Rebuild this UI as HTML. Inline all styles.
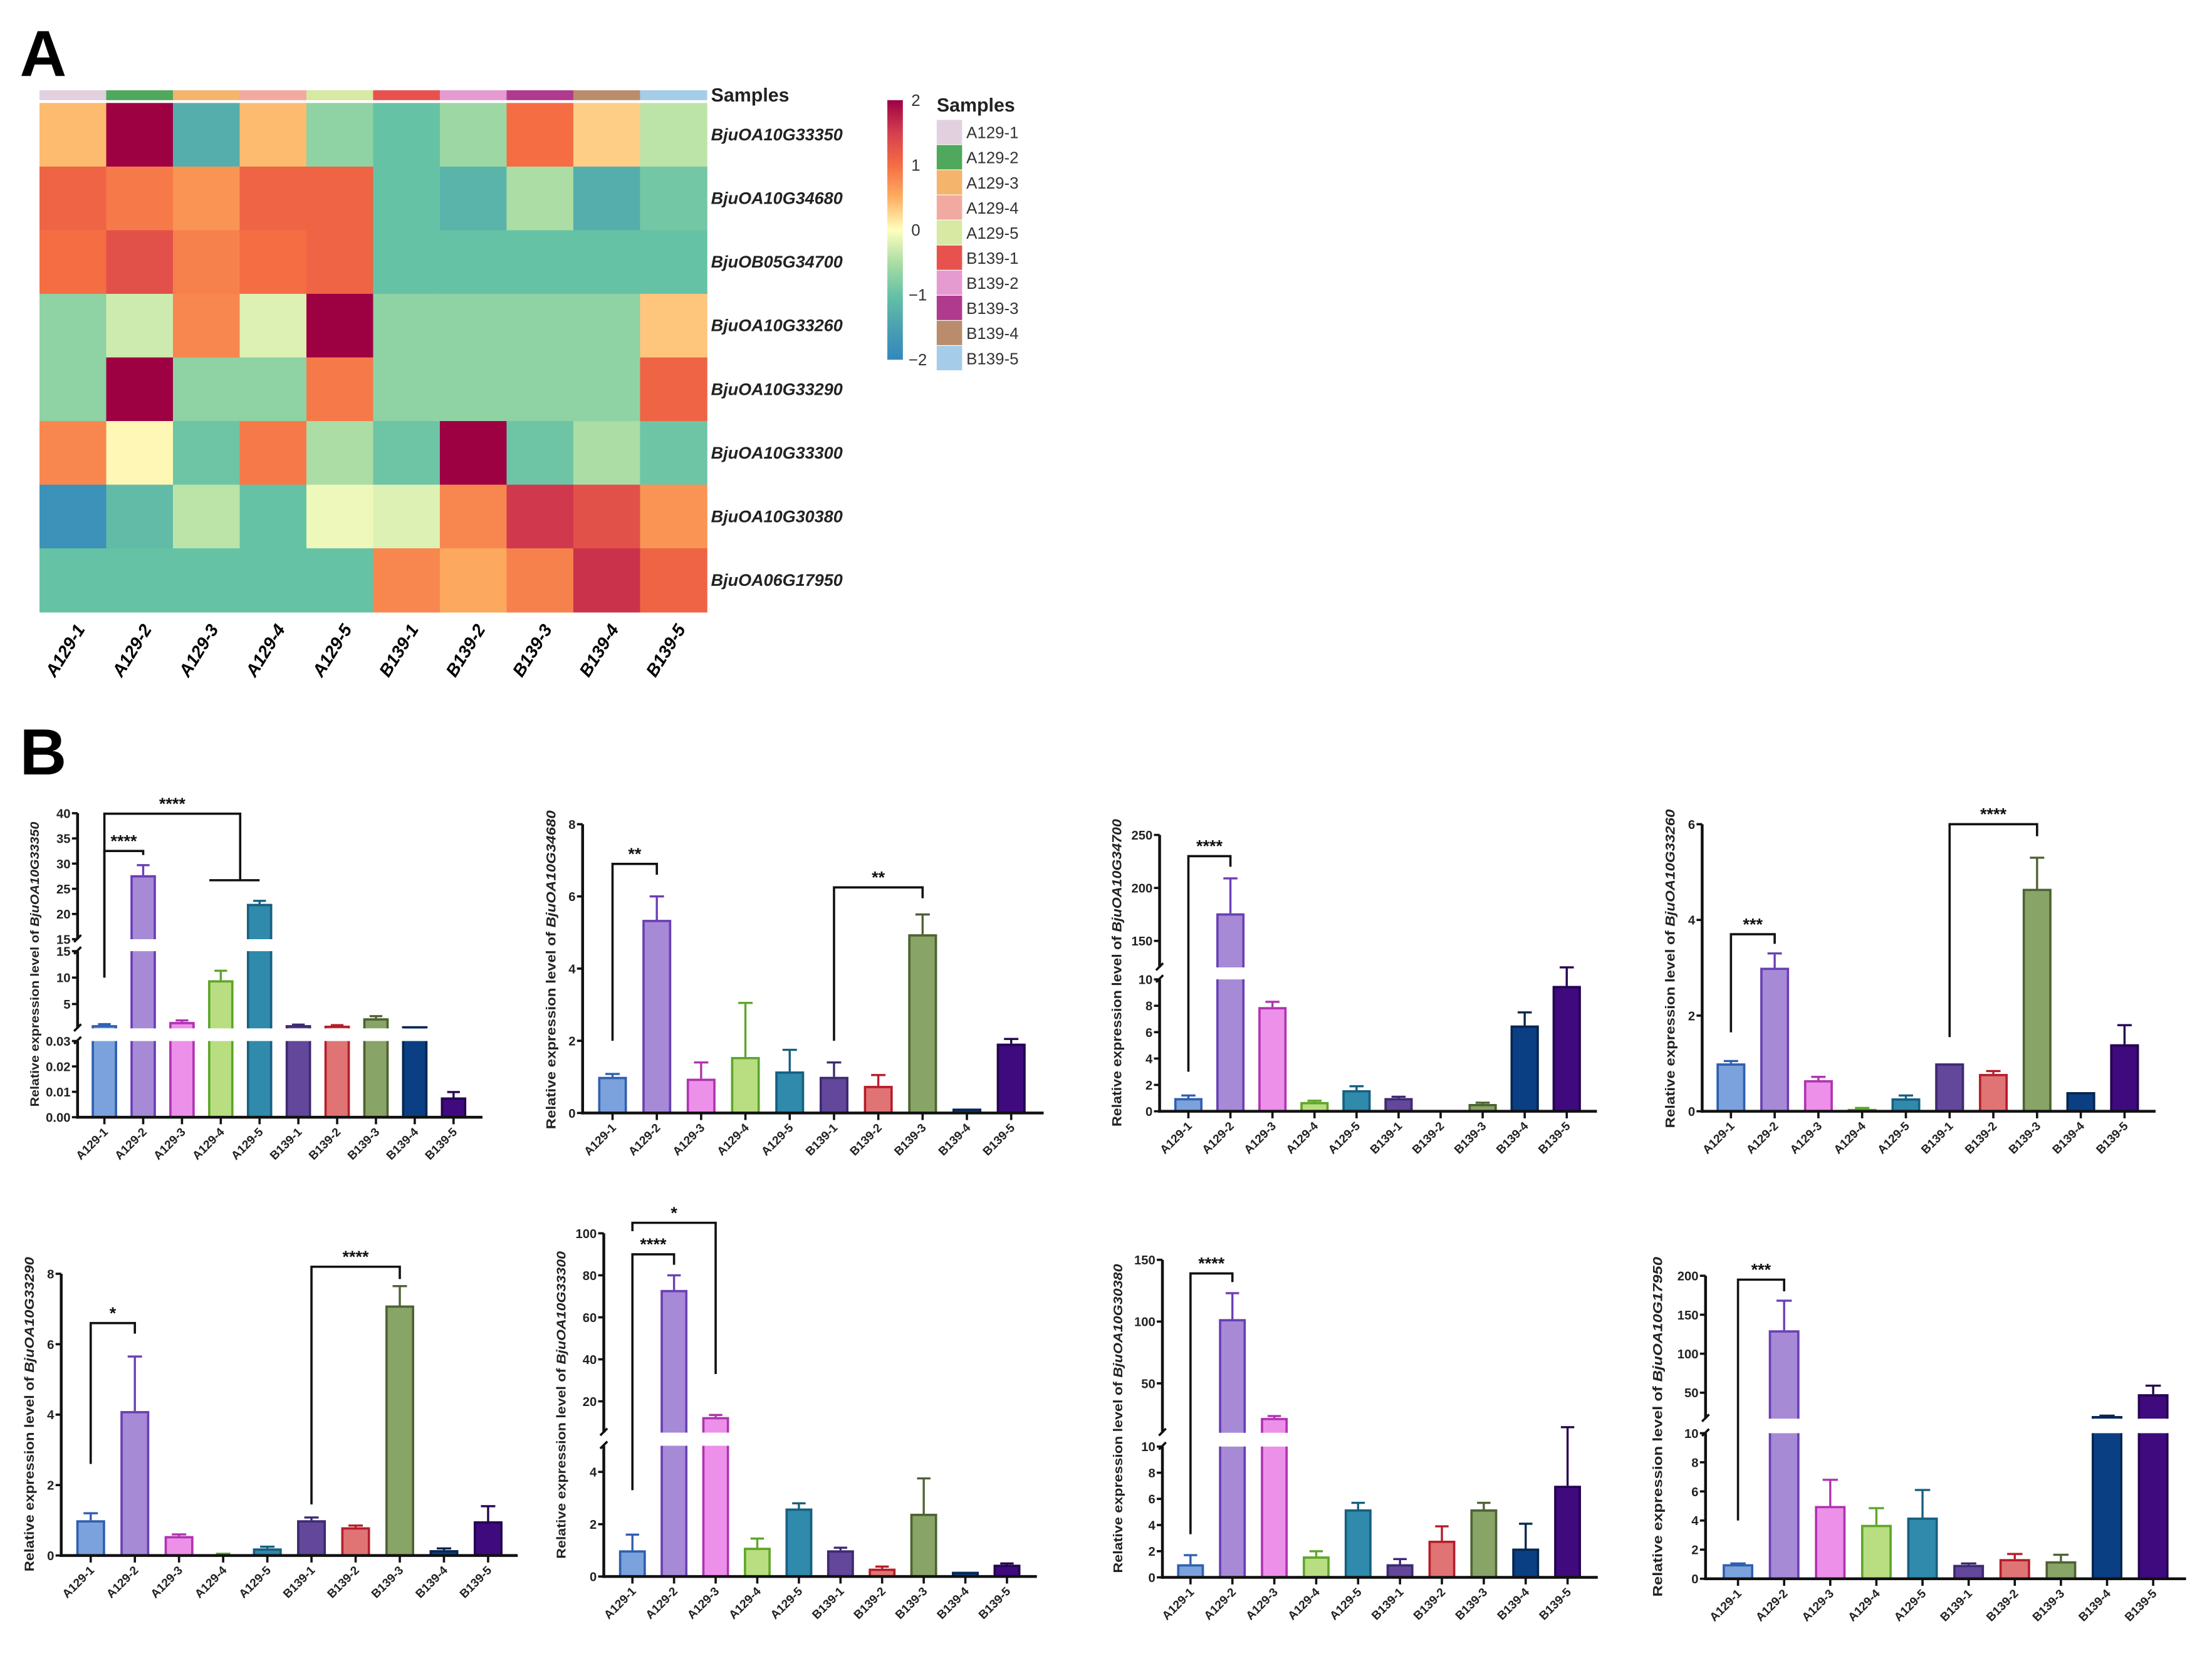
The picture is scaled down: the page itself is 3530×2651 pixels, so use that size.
<!DOCTYPE html>
<html><head><meta charset="utf-8"><style>
html,body{margin:0;padding:0;background:#fff;}
svg{display:block;font-family:"Liberation Sans",Arial,sans-serif;}
</style></head><body>
<svg id="fig" xmlns="http://www.w3.org/2000/svg" width="3530" height="2651" viewBox="0 0 1568 1177.5" preserveAspectRatio="none">
<rect x="0" y="0" width="1568" height="1177.5" fill="#fff"/>
<text x="14" y="54" font-size="46" font-weight="bold">A</text>
<text x="14" y="549" font-size="46" font-weight="bold">B</text>
<defs>
<linearGradient id="cbar" x1="0" y1="0" x2="0" y2="1">
<stop offset="0" stop-color="#9e0142"/><stop offset="0.125" stop-color="#d53e4f"/><stop offset="0.25" stop-color="#f46d43"/><stop offset="0.375" stop-color="#fdae61"/><stop offset="0.5" stop-color="#ffffbf"/><stop offset="0.625" stop-color="#abdda4"/><stop offset="0.75" stop-color="#66c2a5"/><stop offset="0.875" stop-color="#4ba0b1"/><stop offset="1" stop-color="#3288bd"/>
</linearGradient>
</defs>
<g id="heat"></g>
<g id="bars"></g>
</svg>
<script>
const NS='http://www.w3.org/2000/svg';
const samples=['A129-1','A129-2','A129-3','A129-4','A129-5','B139-1','B139-2','B139-3','B139-4','B139-5'];
const sampleColors=['#e2d0df','#4fa85c','#f4b46c','#f2aaa0','#d7e9a2','#e8524e','#e69bd0','#b03a8e','#b98d6b','#a5cce8'];
const heatGenes=['BjuOA10G33350','BjuOA10G34680','BjuOB05G34700','BjuOA10G33260','BjuOA10G33290','BjuOA10G33300','BjuOA10G30380','BjuOA06G17950'];
const heatRow1=[0.42,2,-1.3,0.42,-0.7,-1,-0.6,1.0,0.3,-0.4];
const heatRow2=[1.1,0.9,0.7,1.1,1.1,-1,-1.2,-0.5,-1.3,-0.9];
const heatRow3=[1.0,1.3,0.85,1.0,1.1,-1,-1,-1,-1,-1];
const heatRow4=[-0.7,-0.3,0.8,-0.2,2,-0.7,-0.7,-0.7,-0.7,0.35];
const heatRow5=[-0.7,2,-0.7,-0.7,0.9,-0.7,-0.7,-0.7,-0.7,1.1];
const heatRow6=[0.8,0.05,-0.95,0.9,-0.5,-0.95,2,-0.95,-0.5,-0.95];
const heatRow7=[-1.8,-1.1,-0.4,-1.0,-0.1,-0.2,0.8,1.55,1.3,0.7];
const heatRow8=[-1,-1,-1,-1,-1,0.8,0.55,0.85,1.6,1.1];
const heatRows=[heatRow1,heatRow2,heatRow3,heatRow4,heatRow5,heatRow6,heatRow7,heatRow8];
const colorbarTicks=[2,1,0,-1,-2];

const barFills=['#7ba2dc','#a68ad6','#ec90ea','#b9de82','#2f8aab','#62479a','#e07474','#88a466','#0b3f84','#3f0a7e'];
const barStrokes=['#2f5fae','#6a3fb5','#b033b0','#5ea52a','#175f80','#3d2a70','#b51d2a','#4e6233','#06264f','#25044f'];

const c1Gene='BjuOA10G33350';
const c1Values=[1.0,27.7,1.6,9.5,22,1.0,0.9,2.3,0.8,0.0078];
const c1Errors=[1.2,29.7,1.9,11.3,22.6,1.1,1.0,2.7,0.8,0.0099];
const c1Ticks=[[0,0.01,0.02,0.03],[5,10,15],[15,20,25,30,35,40]];
const c2Gene='BjuOA10G34680';
const c2Values=[1.0,5.35,0.95,1.55,1.15,1.0,0.75,4.95,0.12,1.92];
const c2Errors=[1.08,6.0,1.4,3.05,1.75,1.4,1.05,5.5,0.12,2.05];
const c2Ticks=[[0,2,4,6,8]];
const c3Gene='BjuOA10G34700';
const c3Values=[1.0,176,7.9,0.7,1.6,1.0,0,0.55,6.5,9.5];
const c3Errors=[1.2,209,8.3,0.8,1.9,1.1,0,0.65,7.5,10.2];
const c3Ticks=[[0,2,4,6,8,10],[150,200,250]];
const c4Gene='BjuOA10G33260';
const c4Values=[1.0,3.0,0.65,0.05,0.27,1.0,0.78,4.65,0.4,1.4];
const c4Errors=[1.05,3.3,0.72,0.07,0.33,1.0,0.84,5.3,0.4,1.8];
const c4Ticks=[[0,2,4,6]];
const c5Gene='BjuOA10G33290';
const c5Values=[1.0,4.1,0.55,0.03,0.2,1.0,0.8,7.1,0.15,0.97];
const c5Errors=[1.2,5.65,0.6,0.05,0.25,1.08,0.85,7.65,0.2,1.4];
const c5Ticks=[[0,2,4,6,8]];
const c6Gene='BjuOA10G33300';
const c6Values=[1.0,73,12.5,1.1,2.6,1.0,0.3,2.4,0.18,0.45];
const c6Errors=[1.6,80,13.5,1.45,2.8,1.1,0.38,3.75,0.18,0.5];
const c6Ticks=[[0,2,4],[20,40,60,80,100]];
const c7Gene='BjuOA10G30380';
const c7Values=[1.0,102,22,1.6,5.2,1.0,2.8,5.2,2.2,7.0];
const c7Errors=[1.7,123,23.5,2.0,5.7,1.4,3.9,5.7,4.1,14.5];
const c7Ticks=[[0,2,4,6,8,10],[50,100,150]];
const c8Gene='BjuOA10G17950';
const c8Values=[1.0,130,5.0,3.7,4.2,0.95,1.35,1.2,20,48];
const c8Errors=[1.05,168,6.8,4.85,6.1,1.05,1.7,1.65,20.5,59];
const c8Ticks=[[0,2,4,6,8,10],[50,100,150,200]];

// significance brackets: [leftIndex, rightIndex, topValue, leftLegValue, rightLegValue, label]
const c1Sig=[[0,1,32.5,10,31.7,'****'],[0,3.5,39.9,10,26.7,'****']];
const c2Sig=[[0,1,6.9,2.0,6.6,'**'],[5,7,6.25,2.0,5.95,'**']];
const c3Sig=[[0,1,230,3,220,'****']];
const c4Sig=[[0,1,3.7,1.65,3.5,'***'],[5,7,6.0,1.55,5.75,'****']];
const c5Sig=[[0,1,6.6,2.6,6.3,'*'],[5,7,8.2,1.45,7.85,'****']];
const c6Sig=[[0,1,90,3.3,85,'****'],[0,2,105,101,33,'*']];
const c7Sig=[[0,1,139,3.3,132,'****']];
const c8Sig=[[0,1,195,4,180,'***']];

function el(tag,attrs,parent){const e=document.createElementNS(NS,tag);for(const k in attrs)e.setAttribute(k,attrs[k]);parent.appendChild(e);return e;}

// ---------- Heatmap ----------
const heat=document.getElementById('heat');
const hx0=28,hw=47.3,hy0=73,hh=45.1;
const cStops=[-2,-1.5,-1,-0.5,0,0.5,1,1.5,2];
const cCols=['#3288bd','#4ba0b1','#66c2a5','#abdda4','#ffffbf','#fdae61','#f46d43','#d53e4f','#9e0142'];
function hex(c){return [1,3,5].map(i=>parseInt(c.substr(i,2),16));}
function colorOf(v){v=Math.max(-2,Math.min(2,v));for(let i=0;i<cStops.length-1;i++){if(v<=cStops[i+1]){const t=(v-cStops[i])/(cStops[i+1]-cStops[i]);const a=hex(cCols[i]),b=hex(cCols[i+1]);return 'rgb('+a.map((x,k)=>Math.round(x+(b[k]-x)*t)).join(',')+')';}}return cCols[cCols.length-1];}
samples.forEach((s,j)=>{
  const r=el('rect',{x:hx0+j*hw,y:64,width:hw+0.3,height:7,fill:sampleColors[j]},heat);
  
  
  const t=el('text',{x:0,y:0,'font-size':12.5,'font-weight':'bold','font-style':'italic','text-anchor':'end',transform:`translate(${hx0+j*hw+hw/2+9},${446}) rotate(-58)`},heat);
  t.textContent=s;
  
  
});
heatRows.forEach((row,i)=>{
  row.forEach((v,j)=>{
    const r=el('rect',{x:hx0+j*hw,y:hy0+i*hh,width:hw+0.4,height:hh+0.4,fill:colorOf(v)},heat);
    
    
  });
  const t=el('text',{x:504,y:hy0+i*hh+hh/2+4,'font-size':12,'font-weight':'bold','font-style':'italic',fill:'#222'},heat);
  t.textContent=heatGenes[i];
  
  
});
{const t=el('text',{x:504,y:72,'font-size':13.5,'font-weight':'bold',fill:'#222'},heat);t.textContent='Samples';

}
{const r=el('rect',{x:629,y:71,width:11,height:184,fill:'url(#cbar)'},heat);

}
colorbarTicks.forEach(v=>{
  const y=71+(2-v)/4*184;
  const t=el('text',{x:v<0?644:646,y:y+4,'font-size':11.5,fill:'#333'},heat);
  t.textContent=v<0?'\u2212'+Math.abs(v):String(v);
  
  
});
{const t=el('text',{x:664,y:79,'font-size':13.5,'font-weight':'bold',fill:'#222'},heat);t.textContent='Samples';

}
samples.forEach((s,j)=>{
  const y=85+j*17.8;
  const r=el('rect',{x:664,y:y,width:18,height:17.3,fill:sampleColors[j]},heat);
  
  
  const t=el('text',{x:685,y:y+13,'font-size':11.5,fill:'#333'},heat);
  t.textContent=s;
  
  
});

// ---------- Bar charts ----------
const bars=document.getElementById('bars');
const layouts=[
 {gene:c1Gene,vals:c1Values,errs:c1Errors,ticks:c1Ticks,sig:c1Sig,ax:55,x0:74,dx:27.5,bw:18,xEnd:342,base:792,segs:[[0,0.03,792,738],[0.4,15,729,674.3],[15,40,665.8,576.5]],tx:24,tc:683.6,tl:202,fs:8.5,dec:[2,0,0]},
 {gene:c2Gene,vals:c2Values,errs:c2Errors,ticks:c2Ticks,sig:c2Sig,ax:413,x0:434.2,dx:31.4,bw:20.4,xEnd:739.8,base:789,segs:[[0,8,789,584.3]],tx:390.3,tc:687.5,tl:226,fs:9.5,dec:[0]},
 {gene:c3Gene,vals:c3Values,errs:c3Errors,ticks:c3Ticks,sig:c3Sig,ax:822,x0:842.4,dx:29.8,bw:20,xEnd:1132,base:787.8,segs:[[0,10,787.8,694.3],[125,250,685.8,591.9]],tx:791.4,tc:689.6,tl:218,fs:9.5,dec:[0,0]},
 {gene:c4Gene,vals:c4Values,errs:c4Errors,ticks:c4Ticks,sig:c4Sig,ax:1206.6,x0:1227,dx:31,bw:20.4,xEnd:1528,base:787.8,segs:[[0,6,787.8,584.3]],tx:1183.6,tc:686.7,tl:226,fs:9.5,dec:[0]},
 {gene:c5Gene,vals:c5Values,errs:c5Errors,ticks:c5Ticks,sig:c5Sig,ax:43.4,x0:64.3,dx:31.3,bw:20.4,xEnd:367,base:1102.7,segs:[[0,8,1102.7,903]],tx:20.4,tc:1002.6,tl:223,fs:9.5,dec:[0]},
 {gene:c6Gene,vals:c6Values,errs:c6Errors,ticks:c6Ticks,sig:c6Sig,ax:428,x0:448.3,dx:29.5,bw:19,xEnd:735,base:1117.6,segs:[[0,5,1117.6,1024.9],[5.1,100,1015.6,874.3]],tx:397.3,tc:996,tl:218,fs:9,dec:[0,0]},
 {gene:c7Gene,vals:c7Values,errs:c7Errors,ticks:c7Ticks,sig:c7Sig,ax:824,x0:843.9,dx:29.7,bw:19,xEnd:1132.6,base:1118.2,segs:[[0,10,1118.2,1025.5],[10,150,1015.7,893.1]],tx:792,tc:1005.6,tl:219,fs:9,dec:[0,0]},
 {gene:c8Gene,vals:c8Values,errs:c8Errors,ticks:c8Ticks,sig:c8Sig,ax:1209,x0:1232,dx:32.7,bw:21.7,xEnd:1549.6,base:1119.2,segs:[[0,10,1119.2,1016],[16.7,200,1005.7,904.4]],tx:1174.7,tc:1011.5,tl:241,fs:9.5,dec:[0,0]}
];
function makeScale(segs){
  return v=>{
    for(const s of segs){ if(v<=s[1]) return s[2]+(Math.max(v,s[0])-s[0])/(s[1]-s[0])*(s[3]-s[2]); }
    const s=segs[segs.length-1]; return s[2]+(v-s[0])/(s[1]-s[0])*(s[3]-s[2]);
  };
}
layouts.forEach((L,ci)=>{
  const g=el('g',{},bars);
  
  
  const y=makeScale(L.segs);
  const xc=i=>L.x0+i*L.dx;
  L.segs.forEach((s,k)=>{
    const ln=el('line',{x1:L.ax,x2:L.ax,y1:s[2]+(k===0?1:0),y2:s[3],stroke:'#111','stroke-width':2},g);
    
    
    if(k>0){
      const pb=L.segs[k-1][3];
      const b1=el('line',{x1:L.ax-2.5,x2:L.ax+2.5,y1:pb+2,y2:pb-3,stroke:'#111','stroke-width':1.6},g);
      
      
      const b2=el('line',{x1:L.ax-2.5,x2:L.ax+2.5,y1:s[2]+2,y2:s[2]-3,stroke:'#111','stroke-width':1.6},g);
      
      
    }
    (L.ticks[k]||[]).forEach(tv=>{
      const ty=s[2]+(tv-s[0])/(s[1]-s[0])*(s[3]-s[2]);
      const tk=el('line',{x1:L.ax-4,x2:L.ax,y1:ty,y2:ty,stroke:'#111','stroke-width':1.6},g);
      
      
      const tl=el('text',{x:L.ax-5,y:ty+3.3,'font-size':9,'font-weight':'bold','text-anchor':'end',fill:'#222'},g);
      const dd=L.dec[k]||0;
      tl.textContent=dd?tv.toFixed(dd):String(tv);
      
      
    });
  });
  const tt=el('text',{x:0,y:0,'font-size':L.fs,'font-weight':'bold',fill:'#222','text-anchor':'middle',textLength:L.tl,lengthAdjust:'spacingAndGlyphs',transform:`translate(${L.tx+3.5},${L.tc}) rotate(-90)`},g);
  tt.appendChild(document.createTextNode('Relative expression level of '));
  const ts=el('tspan',{'font-style':'italic'},tt); ts.textContent=L.gene;
  
  
  L.vals.forEach((v,i)=>{
    const cx=xc(i), l=cx-L.bw/2, r=cx+L.bw/2;
    L.segs.forEach((s,k)=>{
      if(k>0 && v<=s[0]) return;
      const top=s[2]+(Math.min(v,s[1])-s[0])/(s[1]-s[0])*(s[3]-s[2]);
      if(s[2]-top<=0.01) return;
      const rc=el('rect',{x:l,y:top,width:L.bw,height:s[2]-top,fill:barFills[i]},g);
      
      
      const isTop=v<=s[1];
      const d=isTop?`M${l+0.8},${s[2]} V${top+0.8} H${r-0.8} V${s[2]}`:`M${l+0.8},${s[2]} V${top} M${r-0.8},${top} V${s[2]}`;
      const p=el('path',{d:d,fill:'none',stroke:barStrokes[i],'stroke-width':1.6},g);
      
      
    });
    const e=L.errs[i];
    if(e>v){
      const ey=y(e), vy=y(v);
      const eb=el('path',{d:`M${cx},${vy} V${ey} M${cx-L.bw*0.25},${ey} H${cx+L.bw*0.25}`,stroke:barStrokes[i],'stroke-width':1.5,fill:'none'},g);
      
      
    }
    const xt=el('line',{x1:cx,x2:cx,y1:L.base,y2:L.base+5,stroke:'#111','stroke-width':1.6},g);
    
    
    const xl=el('text',{x:0,y:0,'font-size':8.5,'font-weight':'bold','text-anchor':'end',fill:'#222',transform:`translate(${cx+3},${L.base+11}) rotate(-45)`},g);
    xl.textContent=samples[i];
    
    
  });
  const xa=el('line',{x1:L.ax-1,x2:L.xEnd,y1:L.base,y2:L.base,stroke:'#111','stroke-width':2},g);
  
  
  L.sig.forEach((s,k)=>{
    const xl=xc(s[0]), xr=xc(s[1]), yt=y(s[2]);
    let d=`M${xl},${y(s[3])} V${yt} H${xr} V${y(s[4])}`;
    if(s[1]%1!==0){ const yb=y(s[4]); d+=` M${xc(Math.floor(s[1]))-L.bw*0.45},${yb} H${xc(Math.ceil(s[1]))}`; }
    const bp=el('path',{d:d,fill:'none',stroke:'#111','stroke-width':1.6},g);
    
    
    const st=el('text',{x:(xl+xr)/2,y:yt-3,'font-size':12,'font-weight':'bold','text-anchor':'middle',fill:'#111'},g);
    st.textContent=s[5];
    
    
  });
});
</script>
</body></html>
